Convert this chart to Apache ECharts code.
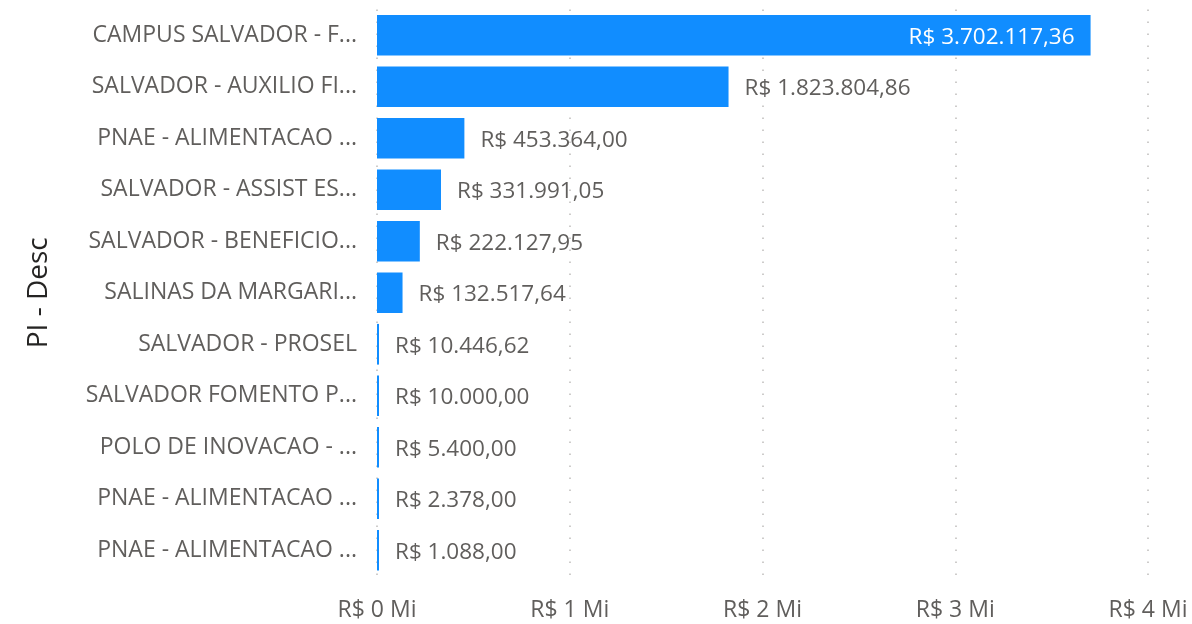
<!DOCTYPE html>
<html>
<head>
<meta charset="utf-8">
<script src="https://cdn.jsdelivr.net/npm/echarts@6/dist/echarts.min.js"></script>
<style>
  html, body { margin: 0; padding: 0; background: #fff; }
  #chart { width: 1192px; height: 624px; }
</style>
</head>
<body>
<div id="chart"></div>
<script>
(function () {
    'use strict';

    var FONT = '"Open Sans", "Noto Sans", sans-serif';

    // Category labels as shown (truncated in the source visual).
    var categories = [
        'CAMPUS SALVADOR - F...',
        'SALVADOR - AUXILIO FI...',
        'PNAE - ALIMENTACAO ...',
        'SALVADOR - ASSIST ES...',
        'SALVADOR - BENEFICIO...',
        'SALINAS DA MARGARI...',
        'SALVADOR - PROSEL',
        'SALVADOR FOMENTO P...',
        'POLO DE INOVACAO - ...',
        'PNAE - ALIMENTACAO ...',
        'PNAE - ALIMENTACAO ...'
    ];

    var values = [
        3702117.36, 1823804.86, 453364.00, 331991.05, 222127.95,
        132517.64, 10446.62, 10000.00, 5400.00, 2378.00, 1088.00
    ];

    var xTicks = [0, 1000000, 2000000, 3000000, 4000000];

    function brl(v) {
        var parts = v.toFixed(2).split('.');
        var intPart = parts[0].replace(/\B(?=(\d{3})+(?!\d))/g, '.');
        return 'R$ ' + intPart + ',' + parts[1];
    }

    var chart = echarts.init(document.getElementById('chart'));

    chart.setOption({
        animation: false,
        textStyle: { fontFamily: FONT },
        grid: { left: 377, right: 44, top: 9.5, bottom: 48, containLabel: false },
        xAxis: {
            type: 'value',
            min: xTicks[0],
            max: xTicks[xTicks.length - 1],
            interval: 1000000,
            axisLine: { show: false },
            axisTick: { show: false },
            axisLabel: {
                margin: 23,
                fontSize: 23,
                color: '#605E5C',
                fontFamily: FONT,
                formatter: function (v) { return 'R$ ' + (v / 1000000) + ' Mi'; }
            },
            splitLine: {
                show: true,
                lineStyle: { color: '#BEBCBA', width: 1.5, type: [1.5, 10.5] }
            }
        },
        yAxis: {
            type: 'category',
            data: categories,
            inverse: true,
            name: 'PI - Desc',
            nameLocation: 'middle',
            nameGap: 324,
            nameTextStyle: { fontSize: 28, color: '#252423', fontFamily: FONT },
            axisLine: { show: false },
            axisTick: { show: false },
            axisLabel: {
                margin: 20,
                fontSize: 23,
                color: '#605E5C',
                fontFamily: FONT,
                padding: [3, 0, 0, 0]
            }
        },
        series: [{
            type: 'bar',
            barCategoryGap: '21%',
            barMinHeight: 2,
            itemStyle: { color: '#118DFF' },
            label: {
                show: true,
                position: 'right',
                distance: 16,
                offset: [0, 2],
                fontSize: 22.5,
                color: '#605E5C',
                fontFamily: FONT,
                formatter: function (p) { return brl(p.value); }
            },
            data: values.map(function (v, i) {
                if (i === 0) {
                    return {
                        value: v,
                        label: { position: 'insideRight', distance: 16, color: '#FFFFFF' }
                    };
                }
                return v;
            })
        }]
    });
})();
</script>
</body>
</html>
